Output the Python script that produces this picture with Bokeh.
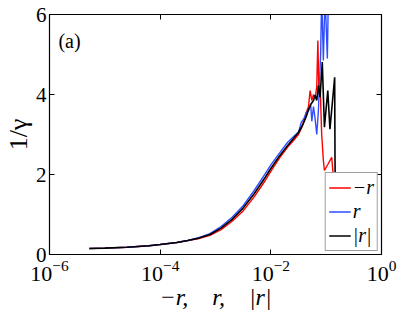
from bokeh.plotting import figure
from bokeh.models import LogAxis, LinearAxis, FixedTicker, Label, Legend, LegendItem, Range1d, CustomJSTickFormatter
from bokeh.embed import file_html
from bokeh.resources import INLINE

# black |r|
x_abs = [5.25e-6, 1e-5, 2.5e-5, 6.3e-5, 1e-4, 2e-4, 3.16e-4, 5e-4, 7.94e-4, 1.26e-3, 2e-3, 3.16e-3,
         5e-3, 7.94e-3, 1e-2, 1.41e-2, 2e-2, 2.5e-2,
         3.16e-2, 3.8e-2, 4.37e-2, 4.8e-2, 5.25e-2, 5.9e-2, 6.3e-2, 6.76e-2, 7.24e-2, 7.76e-2,
         8.5e-2, 9.3e-2, 0.107, 0.117, 0.1425, 0.1445, 0.1462]
y_abs = [0.15, 0.16, 0.18, 0.22, 0.25, 0.30, 0.35, 0.41, 0.50, 0.66, 0.88, 1.16,
         1.52, 1.93, 2.15, 2.45, 2.72, 2.88,
         3.05, 3.25, 3.45, 3.62, 3.75, 3.85, 3.98, 3.85, 4.23, 3.93,
         4.81, 3.18, 4.10, 3.13, 4.43, 2.35, 1.72]

# red -r
x_neg = [5.25e-6, 1e-5, 2.5e-5, 6.3e-5, 1e-4, 2e-4, 3.16e-4, 5e-4, 7.94e-4, 1.26e-3, 2e-3, 3.16e-3,
         5e-3, 7.94e-3, 1e-2, 1.41e-2, 2e-2, 2.5e-2,
         3.16e-2, 3.55e-2, 3.98e-2, 4.37e-2, 4.8e-2, 5.13e-2, 5.5e-2, 5.9e-2, 6.3e-2, 6.76e-2,
         7.08e-2, 7.4e-2, 7.76e-2, 8.3e-2, 8.9e-2, 9.3e-2, 0.107, 0.126, 0.1413]
y_neg = [0.15, 0.16, 0.18, 0.22, 0.25, 0.30, 0.35, 0.40, 0.48, 0.62, 0.83, 1.09,
         1.44, 1.85, 2.08, 2.40, 2.68, 2.83,
         3.00, 3.15, 3.35, 3.55, 3.70, 4.10, 3.85, 4.00, 3.90, 4.20,
         5.35, 4.00, 4.26, 3.00, 2.35, 2.10, 2.25, 2.43, 1.60]

# blue r
x_pos = [5.25e-6, 1e-5, 2.5e-5, 6.3e-5, 1e-4, 2e-4, 3.16e-4, 5e-4, 7.94e-4, 1.26e-3, 2e-3, 3.16e-3,
         5e-3, 7.94e-3, 1e-2, 1.41e-2, 2e-2, 2.5e-2,
         2.82e-2, 3.16e-2, 3.55e-2, 3.98e-2, 4.37e-2, 4.8e-2, 5.25e-2, 5.5e-2, 5.9e-2, 6.3e-2,
         6.76e-2, 7.24e-2, 7.94e-2, 8.3e-2, 8.9e-2, 9.55e-2, 0.105, 0.11, 0.112]
y_pos = [0.15, 0.16, 0.18, 0.22, 0.25, 0.30, 0.35, 0.42, 0.52, 0.70, 0.93, 1.22,
         1.60, 2.02, 2.24, 2.52, 2.80, 2.93,
         3.00, 3.06, 3.30, 3.40, 3.55, 3.60, 3.75, 3.33, 3.70, 3.40,
         3.00, 3.60, 5.00, 6.50, 4.85, 6.50, 4.90, 6.60, 7.00]

x_ticks = [1e-6, 1e-4, 1e-2, 1.0]
y_ticks = [0, 2, 4, 6]

SERIF = "Liberation Serif"

p = figure(width=398, height=315, x_axis_type="log",
           x_range=Range1d(1e-6, 1.0), y_range=Range1d(0, 6),
           output_backend="svg", toolbar_location=None,
           min_border_left=46, min_border_right=17, min_border_top=14, min_border_bottom=61)
p.grid.visible = False
p.outline_line_color = "black"
p.outline_line_width = 1.2
p.background_fill_color = "white"
p.border_fill_color = "white"

r_neg = p.line(x_neg, y_neg, line_color="#ff0000", line_width=1.4)
r_pos = p.line(x_pos, y_pos, line_color="#2e4dff", line_width=1.4)
r_abs = p.line(x_abs, y_abs, line_color="black", line_width=1.6)

def style(ax):
    ax.major_tick_in = 5
    ax.major_tick_out = 0
    ax.minor_tick_line_color = None
    ax.axis_line_color = "black"
    ax.major_tick_line_color = "black"
    ax.major_label_text_font = SERIF
    ax.major_label_text_color = "black"
    ax.axis_label_text_color = "black"

xa = p.xaxis[0]
xa.ticker = FixedTicker(ticks=x_ticks)
style(xa)
xa.major_label_text_font_size = "22px"
xa.major_label_standoff = 6
xa.axis_label = "\u2212r,\u2003r,\u2003|r|"
xa.axis_label_text_font = SERIF
xa.axis_label_text_font_style = "italic"
xa.axis_label_text_font_size = "24px"
xa.axis_label_standoff = 0

ya = p.yaxis[0]
ya.ticker = FixedTicker(ticks=y_ticks)
style(ya)
ya.major_label_text_font_size = "21px"
ya.major_label_standoff = 3
ya.axis_label = "1/\u03b3"
ya.axis_label_text_font = SERIF
ya.axis_label_text_font_style = "normal"
ya.axis_label_text_font_size = "26px"
ya.axis_label_standoff = 0

blank = CustomJSTickFormatter(code="return '';")
top = LogAxis(ticker=FixedTicker(ticks=x_ticks), formatter=blank)
style(top)
top.major_label_standoff = 0
p.add_layout(top, "above")
right = LinearAxis(ticker=FixedTicker(ticks=y_ticks), formatter=blank)
style(right)
right.major_label_standoff = 0
p.add_layout(right, "right")

p.add_layout(Label(x=1.45e-6, y=5.62, text="(a)", text_font=SERIF, text_font_size="20px",
                   text_color="black", text_baseline="top", text_align="left"))

legend = Legend(items=[LegendItem(label="\u2212r", renderers=[r_neg]),
                       LegendItem(label="r", renderers=[r_pos]),
                       LegendItem(label="|r|", renderers=[r_abs])],
                location="bottom_right")
legend.label_text_font = SERIF
legend.label_text_font_style = "italic"
legend.label_text_font_size = "20px"
legend.label_text_color = "black"
legend.glyph_width = 22
legend.glyph_height = 15
legend.label_height = 15
legend.label_standoff = 2
legend.spacing = 1
legend.padding = 3
legend.margin = 3
legend.border_line_color = "#404040"
legend.border_line_width = 1.5
legend.background_fill_alpha = 1.0
p.add_layout(legend)

open("out.html", "w").write(file_html(p, INLINE))
